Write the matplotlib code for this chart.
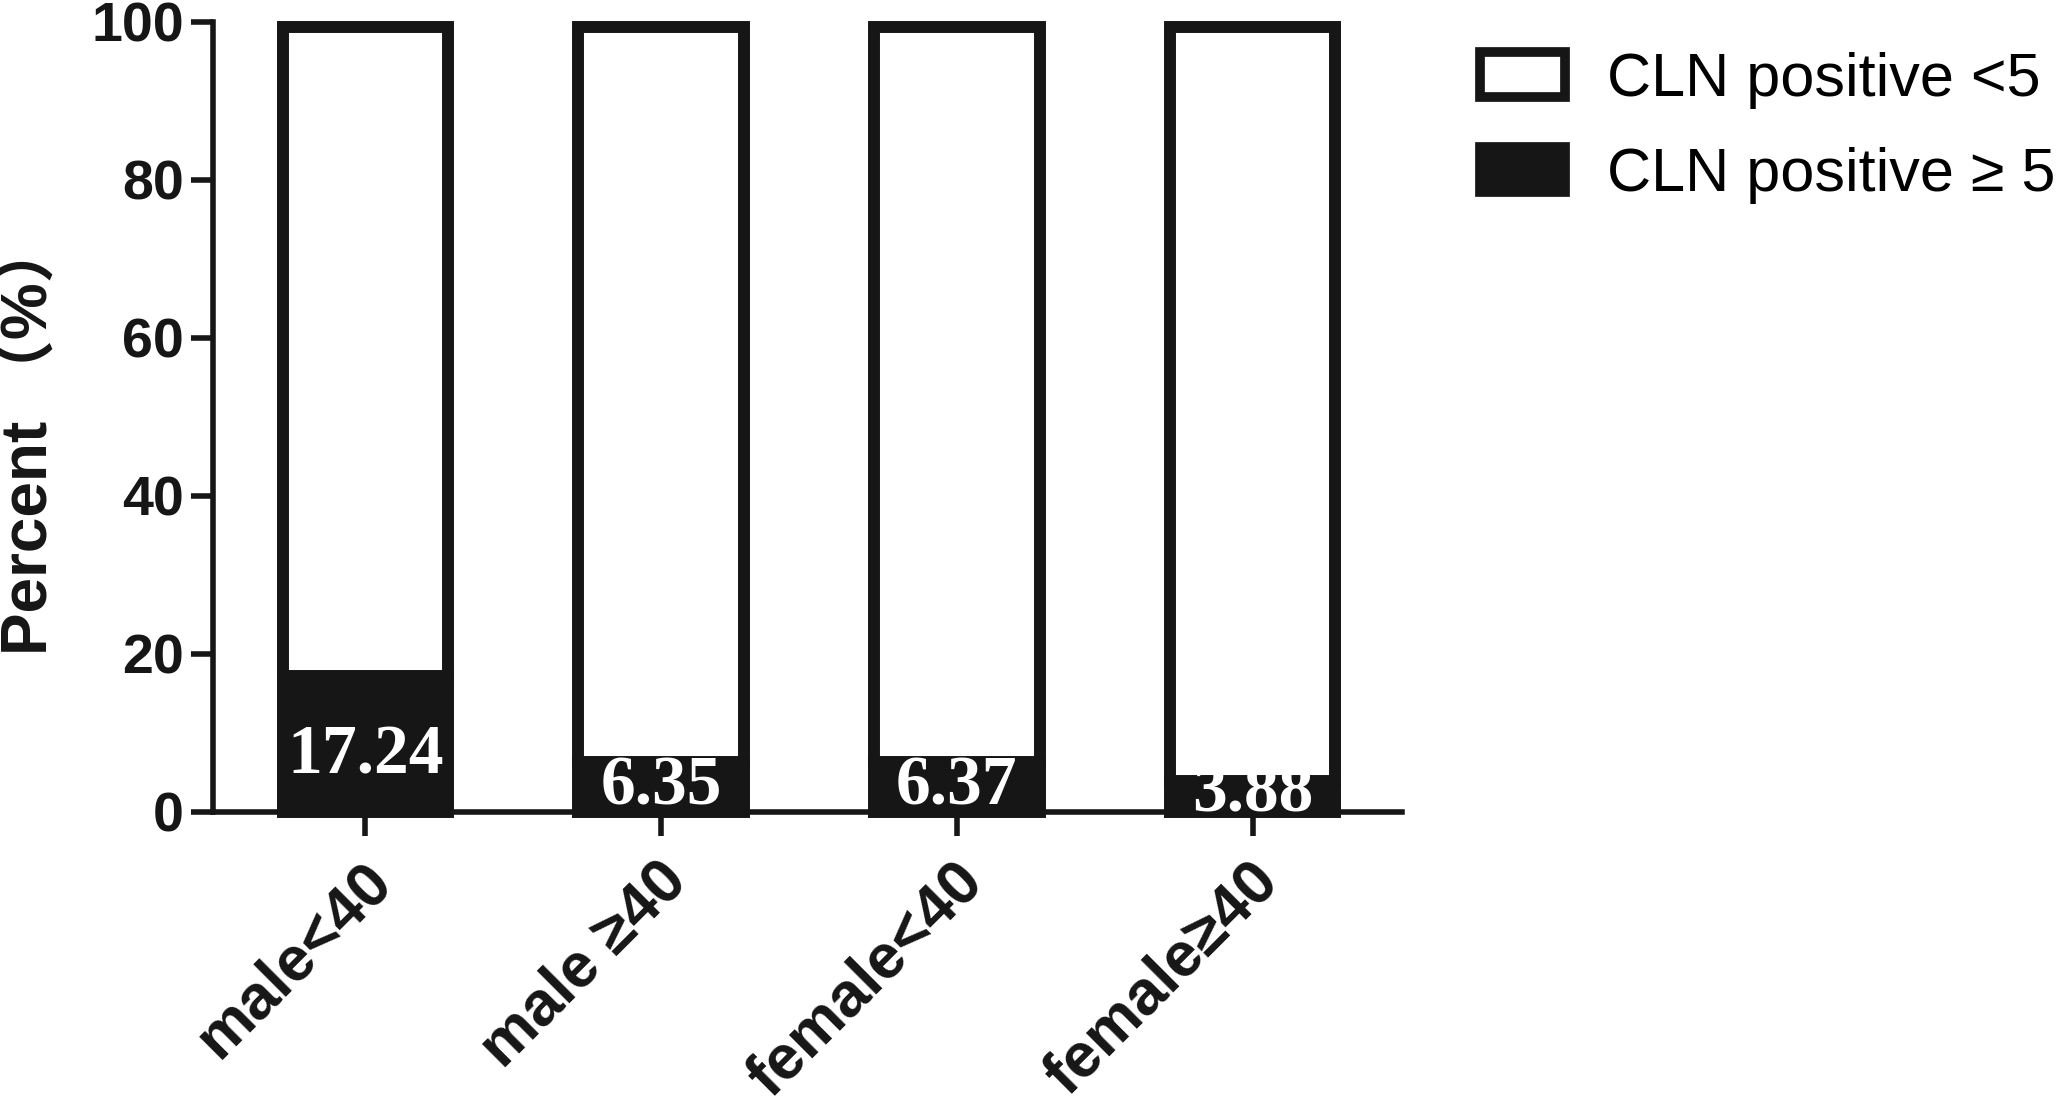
import matplotlib
matplotlib.use("Agg")
import matplotlib.pyplot as plt
import matplotlib.transforms as mtransforms
from matplotlib.patches import Patch
import numpy as np

# data
groups = ["male<40", "male \u226540", "female<40", "female\u226540"]
cln_ge5 = [17.24, 6.35, 6.37, 3.88]          # % with CLN positive >= 5
cln_lt5 = [100 - v for v in cln_ge5]         # remainder up to 100 %
value_labels = ["17.24", "6.35", "6.37", "3.88"]
label_base = [4.9, 0.9, 0.9, 0.0]            # baseline of the value text (data units)
yticks = [0, 20, 40, 60, 80, 100]
legend_labels = ["CLN positive <5", "CLN positive \u2265 5"]
ylabel = "Percent \uff08%\uff09"

INK = "#161616"
W, H = 2067, 1100
SANS = "Liberation Sans"
CJK = "Noto Sans CJK SC"

fig = plt.figure(figsize=(W / 100, H / 100), dpi=100)
ax = fig.add_axes([213 / W, 1 - 812 / H, (1402 - 213) / W, (812 - 22) / H])

x = np.arange(len(groups))
bw = 0.56
lw = 8.6

ax.bar(x, cln_ge5, width=bw, color=INK, edgecolor=INK, linewidth=lw,
       clip_on=False, zorder=2)
tops = ax.bar(x, cln_lt5, bottom=cln_ge5, width=bw, color="white", edgecolor=INK,
              linewidth=lw, clip_on=False, zorder=2)
# keep the outer edge of the bar at the 100 line
for p in tops:
    p.set_height(p.get_height() - 0.6)

for xi, txt, yb in zip(x, value_labels, label_base):
    ax.text(xi, yb, txt, ha="center", va="baseline", color="white",
            fontsize=50, fontweight="bold", family="Liberation Serif",
            zorder=5, clip_on=False)

ax.set_xlim(-0.515, 3.505)
ax.set_ylim(0, 100)
ax.set_yticks(yticks)
ax.set_xticks(x)

for side in ["top", "right"]:
    ax.spines[side].set_visible(False)
for side in ["left", "bottom"]:
    ax.spines[side].set_linewidth(4)
    ax.spines[side].set_color(INK)
    ax.spines[side].set_zorder(3)

ax.tick_params(axis="y", length=16, width=4, color=INK, pad=5, labelsize=40)
ax.tick_params(axis="x", length=17, width=4, color=INK, pad=11)

for lab in ax.get_yticklabels():
    lab.set_fontweight("bold")
    lab.set_family(SANS)
    lab.set_color(INK)

ax.set_xticklabels(groups, rotation=45, ha="right", va="top",
                   rotation_mode="anchor", fontsize=45, fontweight="bold",
                   family=[SANS, "DejaVu Sans"], color=INK)
shift = mtransforms.ScaledTranslation(-4 / 100, 0, fig.dpi_scale_trans)
for lab in ax.get_xticklabels():
    lab.set_transform(lab.get_transform() + shift)

fig.text(30 / W, 1 - 437 / H, ylabel, rotation=90, ha="center", va="center",
         fontsize=46, fontweight="bold", family=[SANS, CJK], color=INK)

handles = [
    Patch(facecolor="white", edgecolor=INK, linewidth=7, joinstyle="round",
          label=legend_labels[0]),
    Patch(facecolor=INK, edgecolor=INK, linewidth=7, joinstyle="round",
          label=legend_labels[1]),
]
leg_fs = 44
em = leg_fs * 100 / 72
fig.legend(handles=handles, loc="upper left", bbox_to_anchor=(1480 / W, 1 - 52 / H),
           frameon=False, handlelength=85 / em, handleheight=46 / em,
           handletextpad=0.68, labelspacing=0.62, borderaxespad=0, borderpad=0,
           prop={"family": SANS, "size": leg_fs})

fig.savefig("out.png", dpi=100, facecolor="white")
